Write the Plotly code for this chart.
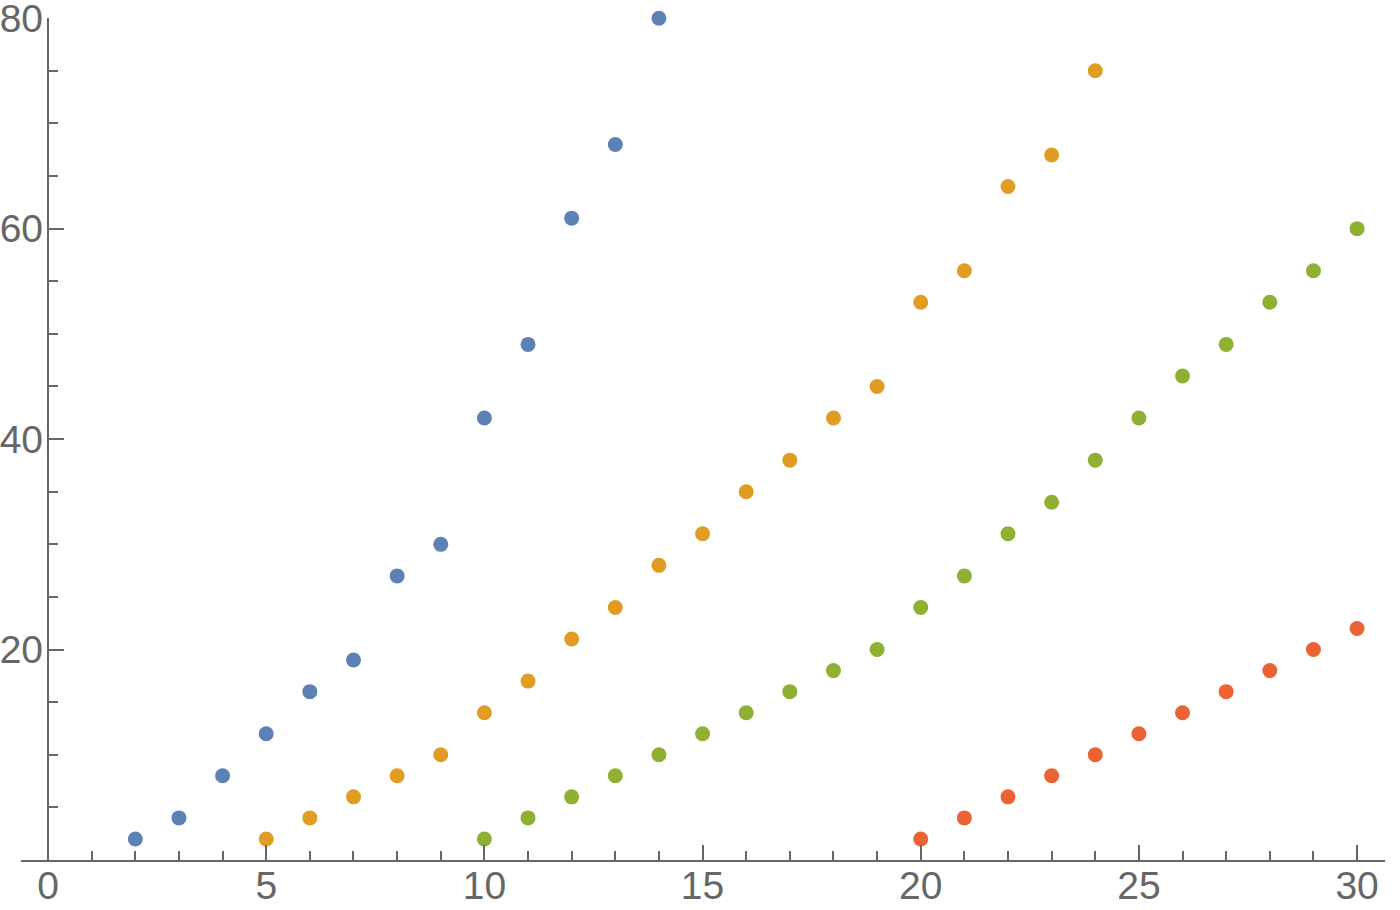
import plotly.graph_objects as go

blue_x = [2, 3, 4, 5, 6, 7, 8, 9, 10, 11, 12, 13, 14]
blue_y = [2, 4, 8, 12, 16, 19, 27, 30, 42, 49, 61, 68, 80]

orange_x = [5, 6, 7, 8, 9, 10, 11, 12, 13, 14, 15, 16, 17, 18, 19, 20, 21, 22, 23, 24]
orange_y = [2, 4, 6, 8, 10, 14, 17, 21, 24, 28, 31, 35, 38, 42, 45, 53, 56, 64, 67, 75]

green_x = list(range(10, 31))
green_y = [2, 4, 6, 8, 10, 12, 14, 16, 18, 20, 24, 27, 31, 34, 38, 42, 46, 49, 53, 56, 60]

red_x = list(range(20, 31))
red_y = [2, 4, 6, 8, 10, 12, 14, 16, 18, 20, 22]

x_ticks = [0, 5, 10, 15, 20, 25, 30]
y_ticks = [20, 40, 60, 80]

series = [
    (blue_x, blue_y, "#5E81B5"),
    (orange_x, orange_y, "#E19C24"),
    (green_x, green_y, "#8FB032"),
    (red_x, red_y, "#EB6235"),
]

fig = go.Figure()
for xs, ys, c in series:
    fig.add_trace(go.Scatter(x=xs, y=ys, mode="markers",
                             marker=dict(size=15, color=c, line=dict(width=0)),
                             cliponaxis=False, showlegend=False, hoverinfo="skip"))
# empty trace so the label-only overlay axes get drawn
fig.add_trace(go.Scatter(x=[], y=[], xaxis="x2", yaxis="y2", showlegend=False))

W, H = 1400, 910
ml, mr, mt, mb = 21, 15, 18, 50
pw, ph = W - ml - mr, H - mt - mb

xmin, xmax = -0.62, 30.64
yrange = [0, 80.02]
ypos = (0 - xmin) / (xmax - xmin)
axcol = "#666666"
font = dict(family="Liberation Sans, Arial, sans-serif", size=39, color="#666666")
minor_common = dict(ticks="inside", ticklen=9, tickwidth=1.5, tickcolor=axcol, tick0=0)

fig.update_layout(
    width=W, height=H,
    margin=dict(l=ml, r=mr, t=mt, b=mb),
    paper_bgcolor="white", plot_bgcolor="white",
    xaxis=dict(range=[xmin, xmax], showgrid=False, zeroline=False, automargin=False,
               showline=True, linecolor=axcol, linewidth=1.5,
               ticks="inside", ticklen=15, tickwidth=1.5, tickcolor=axcol,
               tickmode="array", tickvals=x_ticks, showticklabels=False,
               minor=dict(dtick=1, **minor_common)),
    yaxis=dict(range=yrange, showgrid=False, zeroline=False, automargin=False,
               anchor="free", position=ypos,
               showline=True, linecolor=axcol, linewidth=1.5,
               ticks="inside", ticklen=15, tickwidth=1.5, tickcolor=axcol,
               tickmode="array", tickvals=y_ticks, showticklabels=False,
               minor=dict(dtick=5, **minor_common)),
    xaxis2=dict(range=[xmin, xmax], overlaying="x", anchor="free", position=3 / ph,
                showgrid=False, zeroline=False, automargin=False, showline=False, ticks="",
                tickmode="array", tickvals=x_ticks, ticktext=[str(v) for v in x_ticks],
                tickfont=font, ticklabelstandoff=2, ticklabeloverflow="allow"),
    yaxis2=dict(range=yrange, overlaying="y", anchor="free", position=ypos - 3 / pw,
                showgrid=False, zeroline=False, automargin=False, showline=False, ticks="",
                tickmode="array", tickvals=y_ticks, ticktext=[str(v) for v in y_ticks],
                tickfont=font, ticklabelstandoff=2, ticklabeloverflow="allow"),
)
fig.write_html("out.html", config={"displayModeBar": False},
               post_script="document.body.style.margin='0';document.body.style.overflow='hidden';")
